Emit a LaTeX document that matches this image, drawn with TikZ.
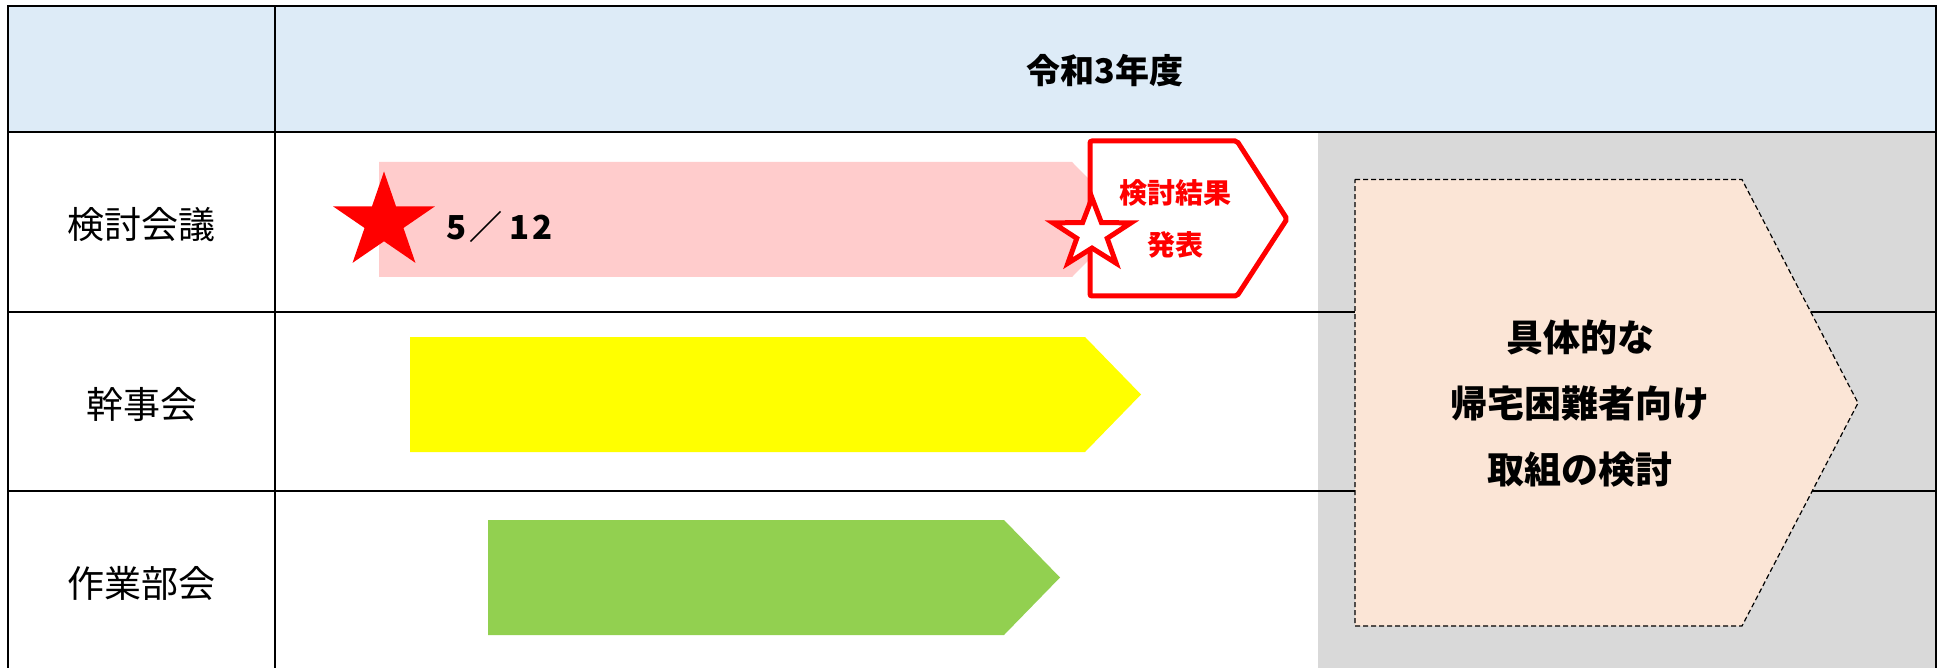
\documentclass[tikz,border=0pt]{standalone}
\usepackage{fontspec}
\setmainfont{Noto Sans CJK JP}
\definecolor{hdrblue}{HTML}{DDEBF7}
\definecolor{panelgray}{HTML}{D9D9D9}
\definecolor{barpink}{HTML}{FFCCCC}
\definecolor{baryellow}{HTML}{FFFF00}
\definecolor{bargreen}{HTML}{92D050}
\definecolor{peach}{HTML}{FBE5D6}
\definecolor{pureRed}{HTML}{FF0000}
\newcommand{\starpath}[2]{(270:#1) -- (306:#2) -- (342:#1) -- (18:#2) -- (54:#1) -- (90:#2) -- (126:#1) -- (162:#2) -- (198:#1) -- (234:#2) -- cycle}
\tikzset{
  gridline/.style={line width=2.5pt, black},
  frameline/.style={line width=2.8pt, black},
  rowlabel/.style={font=\fontsize{37}{40}\selectfont, inner sep=0pt, anchor=center},
  headtext/.style={font=\fontsize{34}{36}\selectfont\bfseries, inner sep=0pt},
  redtext/.style={font=\fontsize{28}{30}\selectfont\bfseries, text=pureRed, inner sep=0pt},
  bigtext/.style={font=\fontsize{37}{40}\selectfont\bfseries, inner sep=0pt},
  datetext/.style={font=\fontsize{33}{36}\selectfont\bfseries, inner sep=0pt, anchor=west},
}
\begin{document}
\begin{tikzpicture}[x=1pt,y=-1pt]
\useasboundingbox (0,0) rectangle (1941,668);
\fill[white] (0,0) rectangle (1941,668);
% header and gray panel
\fill[hdrblue] (8,6) rectangle (1936,132);
\fill[panelgray] (1318,132) rectangle (1936,668);
% grid
\coordinate (hL) at (8,132);  \coordinate (hR) at (1936,132);
\coordinate (aL) at (8,312);  \coordinate (aR) at (1936,312);
\coordinate (bL) at (8,491);  \coordinate (bR) at (1936,491);
\coordinate (cT) at (275,6);  \coordinate (cB) at (275,668);
\draw[gridline] (hL) -- (hR);
\draw[gridline] (aL) -- (aR);
\draw[gridline] (bL) -- (bR);
\draw[gridline] (cT) -- (cB);
\draw[frameline] (8,668) -- (8,6) -- (1936,6) -- (1936,668);
% bars
\fill[barpink] (379,162) -- (1072,162) -- (1129,219.5) -- (1072,277) -- (379,277) -- cycle;
\fill[baryellow] (410,337) -- (1085,337) -- (1141,394.5) -- (1085,452) -- (410,452) -- cycle;
\fill[bargreen] (488,520) -- (1004,520) -- (1060,577.5) -- (1004,635) -- (488,635) -- cycle;
% filled star
\begin{scope}[shift={(384,222)}, xscale=1.06]
\fill[pureRed] \starpath{50.5}{19.3};
\end{scope}
\node[datetext] (date) at (446,226.5) {5\hspace{3pt}／\hspace{7pt}1\hspace{3pt}2};
% red result pentagon
\draw[pureRed, fill=white, line width=5pt, rounded corners=2pt] (1090,141) -- (1237,141) -- (1287,219) -- (1237,296) -- (1090,296) -- cycle;
\begin{scope}[shift={(1092,234)}, yscale=0.88]
\draw[pureRed, fill=white, line width=5pt] \starpath{41}{16};
\end{scope}
\node[redtext] (res1) at (1175,193) {検討結果};
\node[redtext] (res2) at (1175,245) {発表};
% peach pentagon
\draw[fill=peach, draw=black, line width=1.2pt, dash pattern=on 5pt off 3pt] (1355,179.5) -- (1742,179.5) -- (1858,403) -- (1742,626) -- (1355,626) -- cycle;
\node[bigtext] (big1) at (1580,337) {具体的な};
\node[bigtext] (big2) at (1580,403) {帰宅困難者向け};
\node[bigtext] (big3) at (1580,470) {取組の検討};
% header and row labels
\node[headtext] (head) at (1105,71) {令和3年度};
\node[rowlabel] (r1) at (141.5,225) {検討会議};
\node[rowlabel] (r2) at (141.5,404) {幹事会};
\node[rowlabel] (r3) at (141.5,583) {作業部会};
\end{tikzpicture}
\end{document}
